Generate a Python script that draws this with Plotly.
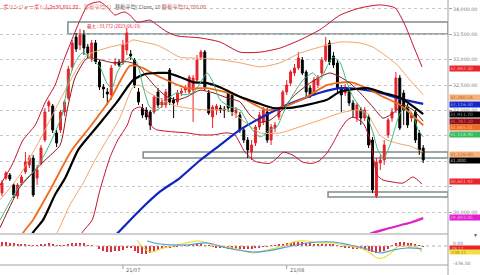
import plotly.graph_objects as go

# ---------------- data ----------------
bar_idx = list(range(109))
open_ = [30375,30670,30730,30533,30316,30572,30789,30927,31064,30670,
 30966,31419,32089,32089,31557,31616,31971,32246,32857,33448,
 33291,33488,33251,33034,33330,32956,32463,32365,32306,32916,
 32956,32936,33192,33113,32995,32365,32049,32010,31971,31971,
 32365,32109,32109,32798,32207,32168,32345,32404,32365,32404,
 32601,33054,33153,32345,31872,32010,32049,32030,32345,32306,
 31951,31912,31616,31419,31183,31360,31675,31774,31971,31419,
 31655,31872,32069,32365,32542,32739,32837,32995,32759,32443,
 32345,32503,32739,32995,33330,33074,32936,32443,32345,32365,
 32148,31852,32010,31852,31872,31419,30316,30966,31025,31518,
 31852,32010,32640,32345,32069,31852,31971,31557,31261]
high = [30631,30808,30769,30572,30572,30730,31183,31124,31124,30927,
 31321,32049,32207,32128,31616,32010,32207,32877,33389,33527,
 33606,33586,33310,33389,33389,32995,32522,32443,32897,33034,
 33015,33389,33625,33192,33034,32443,32128,32069,32010,32306,
 32443,32246,32424,32837,32266,32404,32443,32503,32700,32700,
 33094,33192,33192,32404,32109,32128,32109,32089,32404,32365,
 32069,31971,31675,31478,31419,31715,31971,32069,32049,31734,
 31774,32069,32404,32601,32798,32916,33153,33054,32798,32503,
 32660,32700,33054,33448,33389,33153,32995,32503,32522,32424,
 32207,32148,32069,32069,31931,31478,31064,31124,31419,31852,
 32049,32759,32700,32404,32128,31971,32010,31616,31321]
low = [30316,30631,30611,30276,30257,30533,30749,30867,30296,30533,
 30927,31380,31971,31557,31281,31557,31892,32207,32798,33153,
 33192,33094,33034,32956,32916,32404,32246,32109,32207,32877,
 32857,32897,33094,32995,32443,32109,31852,31813,31616,31931,
 32049,32049,32049,32109,31852,32109,32286,32345,32325,31774,
 32562,32995,32404,31912,31655,31912,31951,31852,31971,31892,
 31852,31557,31360,31064,31025,31301,31616,31715,31360,31321,
 31577,31813,32010,32306,32483,32680,32798,32700,32266,32246,
 32286,32443,32680,32956,32897,32837,32365,31971,32286,32089,
 31852,31774,31715,31793,31261,30375,30276,30828,30927,31459,
 31774,31951,31616,31715,31655,31774,31360,31124,30966]
close = [30572,30769,30651,30336,30533,30690,30986,31064,30336,30828,
 31261,31971,32168,31616,31360,31971,32168,32818,33330,33212,
 33488,33231,33133,33330,32956,32463,32424,32325,32837,32956,
 32897,33291,33527,33074,32503,32168,31912,31872,31715,32266,
 32109,32168,32365,32168,32148,32345,32384,32443,32660,32640,
 32995,33153,32463,31951,32069,32089,32010,32010,32049,31971,
 32010,31616,31419,31222,31321,31675,31912,32010,31419,31675,
 31715,32010,32365,32503,32759,32837,33034,32739,32365,32306,
 32601,32640,32995,33291,32956,32897,32443,32306,32463,32148,
 32010,32109,31852,32010,31321,30434,30986,31025,31321,31813,
 31971,32640,31655,32010,31715,31912,31419,31222,31025]

ma5_x = [-0.5,4.6,8.5,11.5,15.4,16.9,18.7,20.5,22.1,23.8,25.1,26.9,28.2,29.5,31.0,32.8,34.6,36.2,37.9,39.7,
 41.3,43.1,44.9,46.4,49.0,50.8,52.6,54.1,55.9,58.5,61.0,63.6,66.2,68.7,70.5,72.1,74.6,77.2,79.7,81.5,
 83.3,84.9,86.7,88.5,90.0,91.8,93.6,94.9,96.4,97.9,99.5,100.8,102.1,103.8,105.4,106.7,108.0]
ma5_y = [29840,30530,30830,31220,31910,32540,32940,33130,33090,32960,32860,32540,32440,32740,32940,33050,32940,32460,32070,32010,
 32110,32270,32350,32310,32350,32540,32740,32560,32210,32070,32010,31680,31480,31620,31680,31950,32310,32600,32740,32600,
 32860,33050,32940,32540,32270,32070,31870,31620,31220,31060,31320,31660,31950,32070,31910,31620,31480]

ma10_x = [-0.5,4.6,7.9,11.0,14.9,16.7,18.7,21.8,25.1,28.5,32.1,34.6,37.2,39.7,42.3,44.9,47.4,50.8,54.1,57.7,
 61.0,63.6,66.2,68.7,71.3,74.6,78.2,81.5,84.1,86.7,89.2,91.8,95.1,97.7,100.3,102.8,105.4,108.0]
ma10_y = [29690,30490,30770,31020,31320,32010,32640,33030,33000,32940,32960,32900,32660,32440,32270,32210,32270,32400,32350,32250,
 32170,31910,31770,31810,31970,32270,32500,32660,32740,32660,32540,32350,32070,31850,31950,32110,32010,31790]

ma25_x = [3.3,5.4,7.9,12.3,17.9,22.6,27.7,32.8,35.4,40.5,47.4,52.6,57.7,61.0,67.9,72.1,78.2,83.3,89.2,93.6,97.7,102.1,108.0]
ma25_y = [29250,29590,29840,30430,31220,31680,32210,32880,32860,32660,32440,32440,32350,32270,32010,32070,32270,32500,32560,32440,32270,32110,31710]

mid_x = [5.9,7.9,10.5,13.6,16.2,19.5,22.6,25.1,29.5,33.6,36.7,39.7,42.3,45.6,49.0,52.6,55.9,61.0,65.4,69.5,
 73.8,78.2,83.3,86.7,93.6,97.7,102.1,108.0]
mid_y = [29250,29590,29840,30340,30670,31220,31520,31750,32170,32600,32720,32740,32740,32660,32560,32540,32460,32270,32150,32050,
 32050,32110,32210,32370,32440,32350,32250,31930]

ma75_x = [25.1,29.7,35.4,40.5,45.6,50.8,55.9,61.0,66.2,71.3,76.4,81.5,86.7,91.8,96.9,102.1,108.0]
ma75_y = [29250,29590,30040,30400,30670,31020,31320,31620,31850,32050,32210,32350,32440,32420,32350,32230,32130]

ma200_x = [91.8,94.4,98.7,102.1,105.1,108.0]
ma200_y = [29450,29570,29670,29740,29800,29880]

up2_x = [-0.5,2.6,5.4,8.5,11.0,13.6,15.6,17.9,20.0,22.1,25.1,26.9,29.0,30.3,31.5,32.8,34.6,37.9,39.7,42.3,
 44.9,50.8,55.9,61.0,66.2,71.3,76.4,81.5,86.7,91.8,96.9,100.8,103.3,105.4,107.7]
up2_y = [30530,30930,31420,31710,32150,32500,32940,33390,33780,34080,34140,34040,33880,33920,33940,33880,33740,33780,33690,33550,
 33470,33430,33350,33150,33150,33230,33390,33590,33880,34020,34080,34020,33690,33290,32860]

up1_x = [-0.5,4.6,9.7,14.9,19.5,21.8,25.1,27.7,32.1,33.6,36.2,39.7,42.3,45.6,50.8,55.9,61.0,66.2,71.3,76.4,
 81.5,86.7,91.8,95.1,98.2,101.3,104.6,108.0]
up1_y = [30240,30730,31420,32210,32860,33090,33190,33250,33330,33390,33350,33290,33190,33050,33030,33000,32940,32860,32940,33130,
 33250,33350,33330,33250,33090,32900,32600,32310]

lo1_x = [11.0,14.1,17.4,20.8,23.8,26.9,30.3,33.6,35.4,37.2,39.7,43.8,47.4,52.6,57.7,61.0,66.2,71.3,76.4,81.5,
 86.7,91.0,93.6,95.1,96.9,98.7,102.1,104.6,108.0]
lo1_y = [29250,29590,30140,30570,31020,31420,31870,32460,32500,32370,32270,32110,32050,32010,32010,31850,31560,31560,31680,31810,
 31950,32010,31950,31750,31520,31420,31340,31300,31180]

lo2_x = [18.7,20.5,23.1,25.1,27.7,29.7,32.1,33.6,35.4,37.2,38.5,39.7,43.8,47.4,50.8,54.1,57.7,59.7,62.3,64.9,
 68.7,70.5,72.1,74.6,77.2,79.7,81.5,83.3,84.9,86.7,88.5,90.0,92.6,94.4,96.2,97.7,100.3,102.8,105.4,107.7]
lo2_y = [29250,29590,29840,30430,31080,31420,31710,32010,32070,31950,31680,31620,31580,31560,31520,31520,31560,31520,31180,31000,
 30960,31060,31180,31120,30980,30960,31020,31160,31360,31620,31810,31870,31750,31420,30730,30630,30590,30570,30690,30550]

macd_hist = [90,90,70,60,50,30,25,20,15,20,
 25,50,60,40,15,10,10,50,70,75,
 70,60,20,10,0,-60,-100,-130,-140,-120,
 -100,-80,-50,-30,-100,-150,-175,-170,-150,-120,
 -80,-60,-50,-40,-20,-10,0,10,15,20,
 25,30,20,5,-10,-30,-40,-50,-55,-60,
 -60,-65,-70,-65,-55,-45,-30,-20,-5,10,
 20,30,45,60,70,80,85,80,70,60,
 50,45,40,40,35,25,10,-20,-35,-45,
 -55,-65,-70,-80,-100,-130,-150,-140,-110,-60,
 20,60,90,80,70,60,40,20,-20]
macd_x = [34.6,37.9,41.3,44.9,50.8,54.1,59.2,64.4,67.9,73.1,74.6,78.2,81.5,84.9,88.5,91.8,94.4,96.2,97.7,100.0,101.3,103.8,106.4,107.7]
macd_y = [132,-132,-44,22,110,22,-44,-154,-88,22,88,110,66,66,0,-44,-154,-264,-264,-132,-22,0,-22,-132]
sig_x = [37.2,40.5,47.4,52.6,57.7,64.4,67.9,73.1,78.2,84.9,89.2,93.6,96.9,100.3,103.8,107.7]
sig_y = [110,44,22,66,-44,-132,-110,-22,66,88,22,-66,-154,-88,-44,-66]

month_idx = [31, 73]
month_labels = ["21/07", "21/08"]
price_ticks = [30000, 30500, 31000, 31500, 32000, 32500, 33000, 33500, 34000]
hidden_ticks = [30500, 31000, 31500]   # covered by the value boxes on the right

zones = [  # (start bar, low, high)
    (16.9, 33507, 33744),
    (36.2, 31064, 31183),
    (83.6, 30296, 30395),
]

side_labels = [  # (price, text, background, text colour)
    (32837, "32,842.30", "#e8232a", "#ffb0b0"),
    (32266, "32,280.54", "#f5b27c", "#c46a20"),
    (32128, "32,116.30", "#1428c8", "#8fa0ff"),
    (31912, "31,911.70", "#000000", "#909090"),
    (31774, "31,787.20", "#8b0f12", "#e07070"),
    (31675, "31,665.31", "#f06a24", "#ffc090"),
    (31518, "31,518.90", "#3cb860", "#b0f0c0"),
    (31124, "31,126.00", "#f5b27c", "#c46a20"),
    (31006, "31,000", "#000000", "#c0c0c0"),
    (30601, "30,601.92", "#e8232a", "#ffb0b0"),
    (29883, "29,893.05", "#e020d0", "#ffa0f0"),
]
macd_labels = [  # (value, text, background, text colour)
    (-50, "-38.17", "#e8232a", "#ffb0b0"),
    (-140, "-148.11", "#f0e040", "#a09020"),
]

# ---------------- figure ----------------
fig = go.Figure()
fig.add_trace(go.Candlestick(
    x=bar_idx, open=open_, high=high, low=low, close=close,
    increasing=dict(line=dict(color="#e8202a", width=1), fillcolor="#e8202a"),
    decreasing=dict(line=dict(color="#000000", width=1), fillcolor="#000000"),
    whiskerwidth=0, showlegend=False, xaxis="x", yaxis="y"))

def line(xs, ys, color, width):
    fig.add_trace(go.Scatter(x=xs, y=ys, mode="lines", line=dict(color=color, width=width, shape="spline", smoothing=0.6),
                             showlegend=False, hoverinfo="skip", xaxis="x", yaxis="y"))

line(up2_x, up2_y, "#c8102e", 1)
line(lo2_x, lo2_y, "#c8102e", 1)
line(up1_x, up1_y, "#f2a46a", 1)
line(lo1_x, lo1_y, "#f2a46a", 1)
line(ma75_x, ma75_y, "#1024c0", 2.2)
line(ma25_x, ma25_y, "#f06a1a", 1.8)
line(mid_x, mid_y, "#000000", 2.2)
line(ma10_x, ma10_y, "#8b1a1a", 1)
line(ma5_x, ma5_y, "#3cb878", 1)
line(ma200_x, ma200_y, "#e020c8", 2.2)

fig.add_trace(go.Bar(x=bar_idx, y=macd_hist, marker=dict(color="#e0303c", line=dict(width=0)), width=0.3,
                     showlegend=False, xaxis="x2", yaxis="y2"))
fig.add_trace(go.Scatter(x=macd_x, y=macd_y, mode="lines", line=dict(color="#e8e030", width=1.2, shape="spline"),
                         showlegend=False, xaxis="x2", yaxis="y2"))
fig.add_trace(go.Scatter(x=sig_x, y=sig_y, mode="lines", line=dict(color="#4a9ad8", width=1.2, shape="spline"),
                         showlegend=False, xaxis="x2", yaxis="y2"))

H = 265.0
xr = [-0.513, 114.36]
shapes = []
for (x0, lo, hi) in zones:
    shapes.append(dict(type="rect", xref="x", yref="y", x0=x0, x1=xr[1], y0=lo, y1=hi,
                       line=dict(color="#7f8c8c", width=1.5), fillcolor="rgba(0,0,0,0)", layer="below"))
shapes.append(dict(type="line", xref="paper", yref="paper", x0=1, x1=1, y0=-10/H, y1=1, line=dict(color="#a0a0a0", width=1)))
shapes.append(dict(type="line", xref="paper", yref="paper", x0=0, x1=1, y0=31/H, y1=31/H, line=dict(color="#a0a0a0", width=1)))
shapes.append(dict(type="line", xref="paper", yref="paper", x0=0, x1=1, y0=0, y1=0, line=dict(color="#a0a0a0", width=1)))
shapes.append(dict(type="line", xref="x2", yref="y2", x0=xr[0], x1=xr[1], y0=0, y1=0,
                   line=dict(color="#b0b0b0", width=1, dash="dot")))
for mi in month_idx:
    shapes.append(dict(type="line", xref="x", yref="paper", x0=mi, x1=mi, y0=0, y1=-4/H, line=dict(color="#a0a0a0", width=1)))

ann = []
for mi, lab in zip(month_idx, month_labels):
    ann.append(dict(x=mi, y=-5/H, xref="x", yref="paper", text=lab, showarrow=False, xanchor="left", yanchor="middle",
                    xshift=1, font=dict(size=5, color="#666666", family="DejaVu Sans")))
for (p, txt, bg, fc) in side_labels:
    ann.append(dict(x=1, y=p, xref="paper", yref="y", text=txt, showarrow=False, xanchor="left", yanchor="middle",
                    xshift=1, bgcolor=bg, width=31, height=5, align="left", borderpad=0,
                    font=dict(size=4.5, color=fc, family="DejaVu Sans")))
ann.append(dict(x=1, y=0, xref="paper", yref="y2", text="0.00", showarrow=False, xanchor="left", yanchor="middle",
                xshift=3, yshift=2.5, font=dict(size=4.5, color="#777777", family="DejaVu Sans")))
for (v, txt, bg, fc) in macd_labels:
    ann.append(dict(x=1, y=v, xref="paper", yref="y2", text=txt, showarrow=False, xanchor="left", yanchor="middle",
                    xshift=1, bgcolor=bg, width=31, height=4, align="left", borderpad=0,
                    font=dict(size=4.2, color=fc, family="DejaVu Sans")))
ann.append(dict(x=1, y=-374, xref="paper", yref="y2", text="-376.50", showarrow=False, xanchor="left", yanchor="middle",
                xshift=3, font=dict(size=4.5, color="#777777", family="DejaVu Sans")))
ann.append(dict(x=1, y=250, xref="paper", yref="y2", text="▼", showarrow=False, xanchor="right", yanchor="middle",
                xshift=32, font=dict(size=5, color="#555555")))
jp = "Noto Sans CJK JP"
ann.append(dict(x=0, y=1, xref="paper", yref="paper", text="ボリンジャーボトム2σ30,601.92", showarrow=False,
                xanchor="left", yanchor="top", xshift=1, yshift=-1, font=dict(size=5.2, color="#e8232a", family=jp)))
ann.append(dict(x=82/448, y=1, xref="paper", yref="paper", text="移動平均(5)", showarrow=False,
                xanchor="left", yanchor="top", yshift=-1, font=dict(size=5.2, color="#f08080", family=jp)))
ann.append(dict(x=113/448, y=1, xref="paper", yref="paper", text="移動平均( Close, 10 )", showarrow=False,
                xanchor="left", yanchor="top", yshift=-1, font=dict(size=5.2, color="#666666", family=jp)))
ann.append(dict(x=160/448, y=1, xref="paper", yref="paper", text="移動平均31,700.00", showarrow=False,
                xanchor="left", yanchor="top", yshift=-1, font=dict(size=5.2, color="#c06060", family=jp)))
ann.append(dict(x=21.3, y=33650, xref="x", yref="y", text="最大 : 33,772 (2023/06/19)", showarrow=False,
                xanchor="left", yanchor="middle", font=dict(size=4.5, color="#e8232a", family=jp)))

fig.update_layout(
    width=480, height=275, margin=dict(l=0, r=32, t=0, b=10),
    paper_bgcolor="white", plot_bgcolor="white", bargap=0,
    xaxis=dict(domain=[0, 1], range=xr, showticklabels=False, showgrid=False, zeroline=False,
               rangeslider=dict(visible=False), anchor="y"),
    xaxis2=dict(domain=[0, 1], range=xr, showticklabels=False, showgrid=False, zeroline=False, anchor="y2", matches="x"),
    yaxis=dict(domain=[32/H, 1], range=[29587, 34177], side="right", tickvals=price_ticks,
               ticktext=["" if v in hidden_ticks else f"{v:,.2f}" for v in price_ticks],
               showgrid=True, gridcolor="#c8c8c8", griddash="dot",
               gridwidth=1, zeroline=False, ticks="outside", ticklen=3, tickcolor="#a0a0a0",
               tickfont=dict(size=4.8, color="#777777", family="DejaVu Sans")),
    yaxis2=dict(domain=[0, 31/H], range=[-418, 264], showticklabels=False, showgrid=False, zeroline=False),
    shapes=shapes, annotations=ann,
)
fig.write_html("out.html")
